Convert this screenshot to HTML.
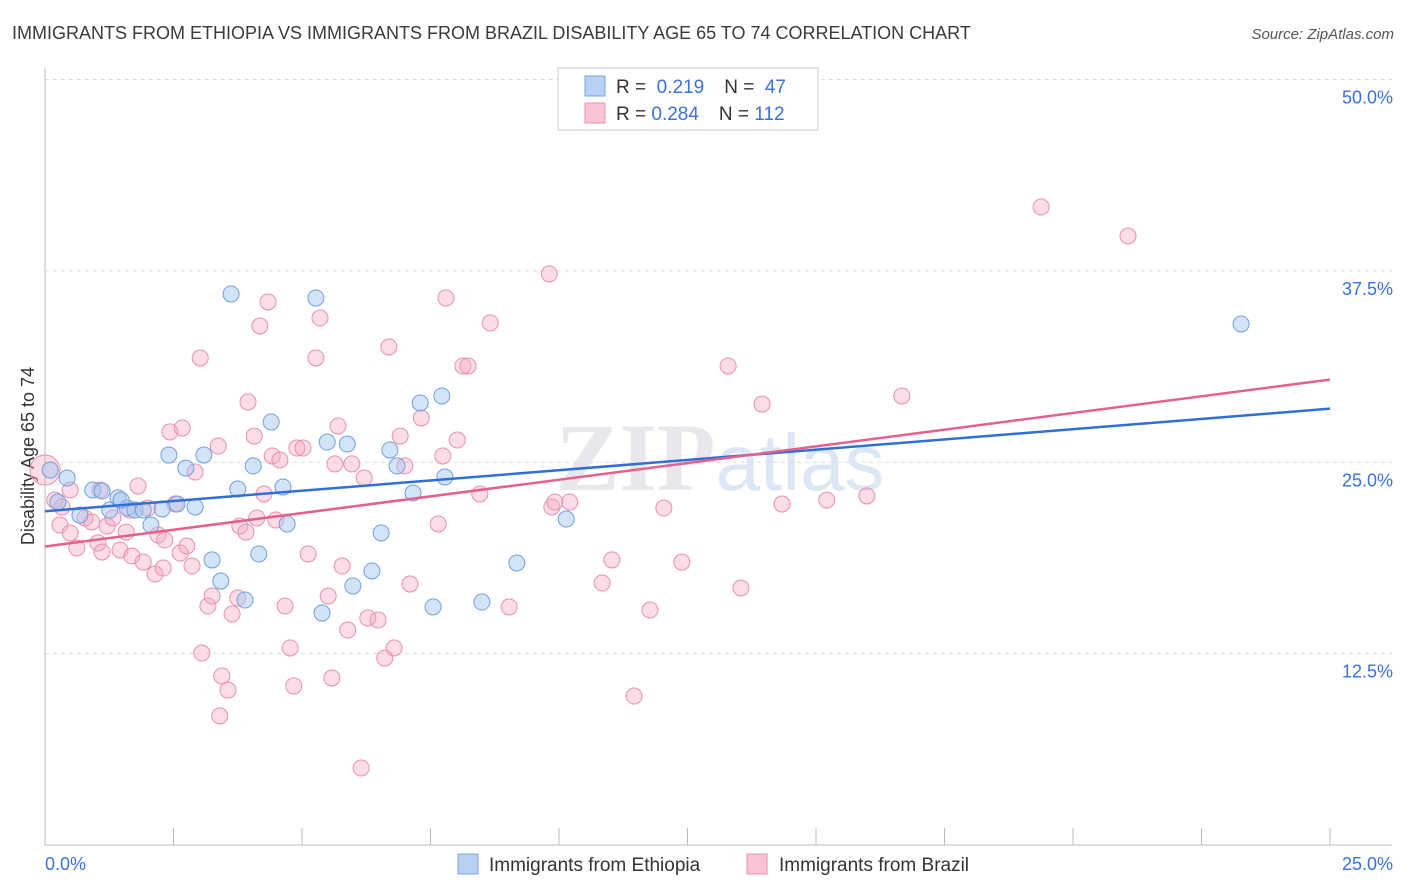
<!DOCTYPE html>
<html><head><meta charset="utf-8">
<style>
body{margin:0;background:#fff;font-family:"Liberation Sans",sans-serif;}
#wrap{position:relative;width:1406px;height:892px;overflow:hidden;}
</style></head>
<body>
<div id="wrap">
<svg id="svg" width="1406" height="892">
<text x="12" y="39" font-size="18" fill="#3a3a3a">IMMIGRANTS FROM ETHIOPIA VS IMMIGRANTS FROM BRAZIL DISABILITY AGE 65 TO 74 CORRELATION CHART</text>
<text x="1394" y="39" font-size="15" fill="#555" font-style="italic" text-anchor="end">Source: ZipAtlas.com</text>
<text x="720" y="490" font-size="96" fill="#e8e8ec" text-anchor="middle" font-family="Liberation Serif,serif" font-weight="bold">ZIP<tspan fill="#dde6f4" font-family="Liberation Sans,sans-serif" font-weight="normal" font-size="80">atlas</tspan></text>
<text transform="translate(34,456) rotate(-90)" font-size="18" fill="#333" text-anchor="middle">Disability Age 65 to 74</text>
<g id="grid"></g><g id="pts"></g><g id="lines"></g>
<g>
<rect x="558" y="68" width="260" height="62" fill="#fff" stroke="#ccc"/>
<rect x="585" y="76" width="20" height="20" fill="#b8d0f4" stroke="#7aa6e0"/>
<rect x="585" y="103" width="20" height="20" fill="#f8c4d4" stroke="#e890ac"/>
<text x="616" y="93" font-size="19" fill="#333">R = <tspan fill="#3a72d8">&#160;0.219</tspan><tspan dx="20">N = </tspan><tspan fill="#3a72d8">&#160;47</tspan></text>
<text x="616" y="120" font-size="19" fill="#333">R = <tspan fill="#3a72d8">0.284</tspan><tspan dx="20">N = </tspan><tspan fill="#3a72d8">112</tspan></text>
</g>
<g>
<rect x="458" y="854" width="20" height="20" fill="#b8d0f4" stroke="#7aa6e0"/>
<text x="489" y="871" font-size="19" fill="#333">Immigrants from Ethiopia</text>
<rect x="747" y="854" width="20" height="20" fill="#f8c4d4" stroke="#e890ac"/>
<text x="779" y="871" font-size="19" fill="#333">Immigrants from Brazil</text>
</g>
</svg>
</div>
<script>
const yTicks=[12.5,25,37.5,50];
const yTickLabels=["12.5%","25.0%","37.5%","50.0%"];
const xTickLabels=["0.0%","25.0%"];
const blueX=[0.43,0.25,0.93,1.11,1.26,1.42,1.60,1.75,1.91,2.06,2.28,2.41,2.57,2.74,2.92,3.09,3.25,3.42,3.62,3.75,3.89,4.05,4.16,4.40,4.63,4.71,5.27,5.39,5.49,5.88,5.99,6.36,6.54,6.71,6.85,7.16,7.30,7.55,7.72,7.78,8.50,9.18,10.14,23.27,0.68,0.10,1.48];
const blueY=[23.97,22.40,23.19,23.12,21.88,22.67,22.01,21.88,21.88,20.90,21.95,25.47,22.27,24.62,22.08,25.47,18.62,17.24,35.99,23.25,16.00,24.76,19.01,27.63,23.38,20.97,35.73,15.15,26.32,26.19,16.92,17.90,20.38,25.80,24.76,22.99,28.87,15.55,29.33,24.04,15.87,18.42,21.29,34.03,21.55,24.49,22.53];
const pinkX=[0.00,0.19,0.33,0.29,0.49,0.62,0.78,0.91,1.03,1.11,1.21,1.32,1.46,1.58,1.69,1.81,1.91,2.00,2.14,2.20,2.30,2.43,2.53,2.63,2.67,2.76,2.86,2.92,3.02,3.05,3.17,3.25,3.37,3.44,3.56,3.40,3.64,3.75,3.79,3.91,3.95,4.07,4.12,4.18,4.26,4.34,4.42,4.49,4.57,4.67,4.77,4.84,4.90,5.02,5.12,5.27,5.35,5.51,5.58,5.64,5.70,5.78,5.89,5.97,6.15,6.21,6.28,6.48,6.61,6.69,6.79,6.91,7.00,7.10,7.32,7.65,7.74,7.80,8.02,8.13,8.23,8.46,8.66,9.03,9.81,9.86,9.92,10.21,10.84,11.03,11.46,11.77,12.04,12.39,13.29,13.54,13.95,14.34,15.21,15.99,16.67,19.38,21.07,0.49,1.07,2.33,1.65];
const pinkY=[24.49,22.53,22.08,20.90,20.38,19.40,21.36,21.10,19.73,19.14,20.84,21.36,19.27,20.44,18.88,23.45,18.48,22.01,17.70,20.25,18.09,26.98,22.27,19.07,27.24,19.53,18.22,24.36,31.81,12.54,15.61,16.26,26.06,11.04,10.12,8.43,15.09,16.13,20.84,20.44,28.94,26.71,21.36,33.90,22.93,35.47,25.41,21.23,25.15,15.61,12.87,10.39,25.93,25.93,19.01,31.81,34.42,16.26,10.91,24.89,27.37,18.22,14.04,24.89,5.03,23.97,14.83,14.70,12.21,32.53,12.87,26.71,24.76,17.05,27.89,20.97,25.41,35.73,26.45,31.29,31.29,22.93,34.10,15.55,37.30,22.08,22.40,22.40,17.11,18.62,9.73,15.35,22.01,18.48,31.29,16.79,28.80,22.27,22.53,22.80,29.33,41.67,39.78,23.19,23.19,19.92,21.88];
const blueTrend=[21.8,28.5];
const pinkTrend=[19.5,30.4];
const X0=45,X1=1330,Y0=845;
const xs=v=>X0+v*(X1-X0)/25;
const ys=v=>Y0-v*15.31;
const NS="http://www.w3.org/2000/svg";
function mk(tag,attrs,parent){const e=document.createElementNS(NS,tag);for(const k in attrs)e.setAttribute(k,attrs[k]);parent.appendChild(e);return e;}
const grid=document.getElementById('grid');
yTicks.forEach((t,i)=>{
  const l=mk('line',{x1:X0,x2:1392,y1:ys(t),y2:ys(t),stroke:'#ddd','stroke-dasharray':'4,4'},grid);
  
  
  const tx=mk('text',{x:1393,y:ys(t)+24,'font-size':18,fill:'#3a72d8','text-anchor':'end'},grid);
  tx.textContent=yTickLabels[i];
  
  
});
const ax=mk('line',{x1:X0,x2:X0,y1:68,y2:Y0,stroke:'#bbb'},grid);


const bx=mk('line',{x1:X0,x2:1392,y1:Y0,y2:Y0,stroke:'#bbb'},grid);


for(let i=0;i<=10;i++){
  const t=mk('line',{x1:xs(i*2.5),x2:xs(i*2.5),y1:828,y2:Y0,stroke:'#bbb'},grid);
  
  
}
[[0,'start',45],[25,'end',1393]].forEach((d,i)=>{
  const tx=mk('text',{x:d[2],y:870,'font-size':18,fill:'#3a72d8','text-anchor':d[1]},grid);
  tx.textContent=xTickLabels[i];
  
  
});
const pts=document.getElementById('pts');
pinkX.forEach((v,i)=>{
  const c=mk('circle',{cx:xs(v),cy:ys(pinkY[i]),r:i==0?15:8,fill:'rgba(244,168,194,0.4)',stroke:'#e890ac','stroke-width':1},pts);
  
  
});
blueX.forEach((v,i)=>{
  const c=mk('circle',{cx:xs(v),cy:ys(blueY[i]),r:8,fill:'rgba(160,195,240,0.45)',stroke:'#6f9fe0','stroke-width':1},pts);
  
  
});
const lines=document.getElementById('lines');
const bl=mk('line',{x1:xs(0),y1:ys(blueTrend[0]),x2:xs(25),y2:ys(blueTrend[1]),stroke:'#2f6fd6','stroke-width':2.5},lines);


const pl=mk('line',{x1:xs(0),y1:ys(pinkTrend[0]),x2:xs(25),y2:ys(pinkTrend[1]),stroke:'#e6608e','stroke-width':2.5},lines);


</script>
</body></html>
